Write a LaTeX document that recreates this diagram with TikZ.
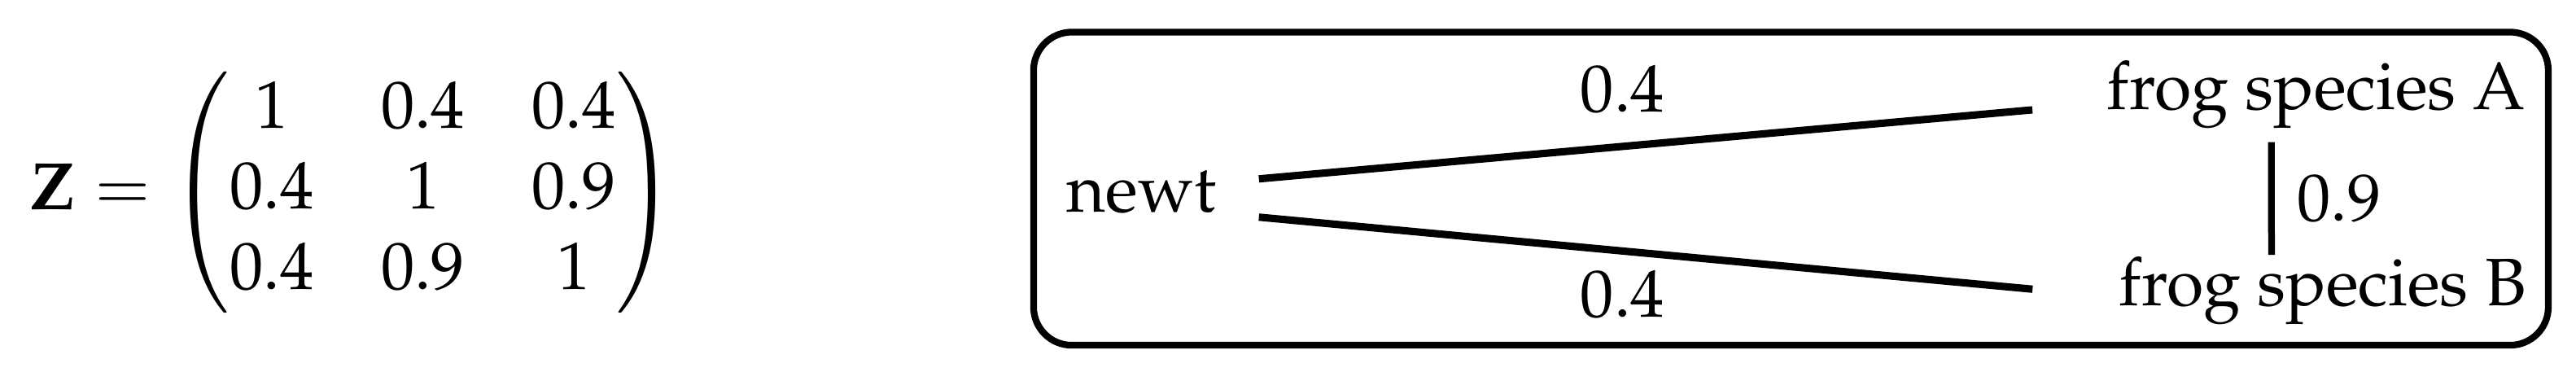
\documentclass[tikz,border=0pt]{standalone}
\usepackage[T1]{fontenc}
\usepackage{mathpazo}
\usepackage{amsmath}
\begin{document}
\begin{tikzpicture}
\useasboundingbox (0,0) rectangle (13.486,1.943);
\node[anchor=base west, inner sep=0] (0) at (0.149,0.848) {$\mathbf{Z} = \begin{pmatrix} 1 & 0.4 & 0.4\\ 0.4 & 1 & 0.9\\ 0.4 & 0.9 & 1 \end{pmatrix}$};
\draw[line width=1pt, rounded corners=0.2cm] (5.411,0.136) rectangle (13.341,1.775);
\node[anchor=base west, inner sep=0] (1) at (5.578,0.831) {newt};
\node[anchor=base west, inner sep=0] (2) at (11.023,1.368) {frog species A};
\node[anchor=base west, inner sep=0] (3) at (11.087,0.345) {frog species B};
\path[draw,line width=1.1pt,-] ([xshift=6.2pt,yshift=5pt]1.base east) -- node[above=1pt,pos=0.47] {0.4} ([xshift=-10.9pt]2.base west);
\path[draw,line width=1.1pt,-] ([xshift=6.2pt,yshift=-0.7pt]1.base east) -- node[below=-1pt,pos=0.47] {0.4} ([xshift=-12.7pt,yshift=2.4pt]3.base west);
\path[draw,line width=1pt,-] ([xshift=24.7pt,yshift=-4.8pt]2.base west) -- node[right] {0.9} ([xshift=22.9pt,yshift=7.5pt]3.base west);
\end{tikzpicture}
\end{document}
